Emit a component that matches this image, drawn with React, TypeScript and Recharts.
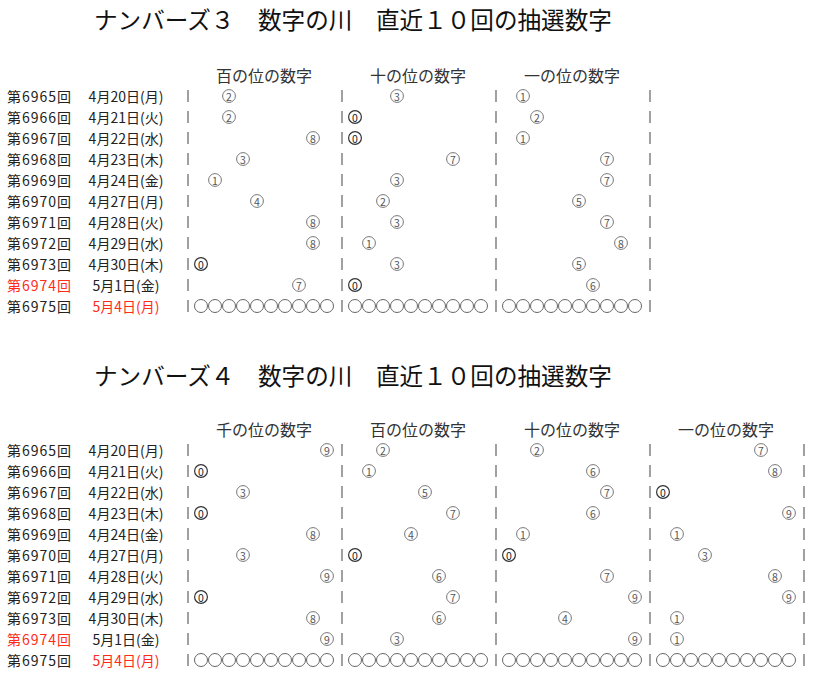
import React from 'react';
import { ScatterChart, Scatter, XAxis, YAxis } from 'recharts';

// draw rounds and dates (last round is the upcoming one)
const rounds = ['第6965回', '第6966回', '第6967回', '第6968回', '第6969回', '第6970回', '第6971回', '第6972回', '第6973回', '第6974回', '第6975回'];
const dates = ['4月20日(月)', '4月21日(火)', '4月22日(水)', '4月23日(木)', '4月24日(金)', '4月27日(月)', '4月28日(火)', '4月29日(水)', '4月30日(木)', '5月1日(金)', '5月4日(月)'];
const redRound = '第6974回';
const redDate = '5月4日(月)';

// ナンバーズ3
const n3Title = 'ナンバーズ３　数字の川　直近１０回の抽選数字';
const n3Headers = ['百の位の数字', '十の位の数字', '一の位の数字'];
const n3Hundreds = [2, 2, 8, 3, 1, 4, 8, 8, 0, 7];
const n3Tens = [3, 0, 0, 7, 3, 2, 3, 1, 3, 0];
const n3Ones = [1, 2, 1, 7, 7, 5, 7, 8, 5, 6];

// ナンバーズ4
const n4Title = 'ナンバーズ４　数字の川　直近１０回の抽選数字';
const n4Headers = ['千の位の数字', '百の位の数字', '十の位の数字', '一の位の数字'];
const n4Thousands = [9, 0, 3, 0, 8, 3, 9, 0, 8, 9];
const n4Hundreds = [2, 1, 5, 7, 4, 0, 6, 7, 6, 3];
const n4Tens = [2, 6, 7, 6, 1, 0, 7, 9, 4, 9];
const n4Ones = [7, 8, 0, 9, 1, 3, 8, 9, 1, 1];

const digitSlots = [0, 1, 2, 3, 4, 5, 6, 7, 8, 9];

const FONT = '"Noto Sans CJK JP", "Noto Sans", sans-serif';
const COL_SPAN = 11;
const SEP_SHIFT = -0.93;
const ROW_PX = 21;

// circled digit, ⓪ is drawn darker like in the source
const DigitMark = (props: any) => {
  const { cx, cy, payload } = props;
  const zero = payload.digit === 0;
  return (
    <g>
      <circle cx={cx} cy={cy} r={6.4} fill="none" stroke={zero ? '#333' : '#777'} strokeWidth={zero ? 1.2 : 1} />
      <text x={cx} y={cy + 0.5} textAnchor="middle" dominantBaseline="central" fontSize={10.5} fill={zero ? '#222' : '#555'} fontFamily={FONT}>
        {payload.digit}
      </text>
    </g>
  );
};

const BlankMark = (props: any) => <circle cx={props.cx} cy={props.cy} r={6.5} fill="none" stroke="#666" strokeWidth={1} />;

const HeaderMark = (props: any) => (
  <text x={props.cx} y={props.cy} textAnchor="middle" dominantBaseline="central" fontSize={16} fill="#333" fontFamily={FONT}>
    {props.payload.label}
  </text>
);

const SepMark = (props: any) => <rect x={props.cx - 1} y={props.cy - 6} width={2} height={12} fill="#a0a0a0" />;

const RowTick = (props: any) => {
  const { x, y, payload } = props;
  const i = payload.value;
  const round = rounds[i];
  const date = dates[i];
  return (
    <g fontFamily={FONT} fontSize={14}>
      <text x={x - 172} y={y} dominantBaseline="central" letterSpacing={1} fill={round === redRound ? '#ff2a1a' : '#222'}>
        {round}
      </text>
      <text x={x - 53} y={y} textAnchor="middle" dominantBaseline="central" fill={date === redDate ? '#ff2a1a' : '#222'}>
        {date}
      </text>
    </g>
  );
};

const RiverPanel = ({ columns, headers, marginTop, height }: { columns: number[][]; headers: string[]; marginTop: number; height: number }) => {
  const drawn = columns.flatMap((col, c) => col.map((v, r) => ({ u: c * COL_SPAN + v, row: r, digit: v })));
  const blanks = columns.flatMap((_, c) => digitSlots.map(d => ({ u: c * COL_SPAN + d, row: rounds.length - 1 })));
  const heads = headers.map((h, c) => ({ u: c * COL_SPAN + 4.5, row: -1, label: h }));
  const seps = [...columns, null].flatMap((_, c) => rounds.map((_, r) => ({ u: c * COL_SPAN + SEP_SHIFT, row: r })));
  const rowTicks = rounds.map((_, i) => i);
  const bottom = height - marginTop - 12 * ROW_PX;

  return (
    <ScatterChart width={814} height={height} margin={{ top: marginTop, right: 4, bottom, left: 7 }}>
      <XAxis type="number" dataKey="u" domain={[-1, 43.5]} hide allowDataOverflow />
      <YAxis
        type="number"
        dataKey="row"
        domain={[-1.5, 10.5]}
        reversed
        ticks={rowTicks}
        interval={0}
        width={180}
        axisLine={false}
        tickLine={false}
        tick={<RowTick />}
      />
      <Scatter data={seps} shape={<SepMark />} isAnimationActive={false} />
      <Scatter data={heads} shape={<HeaderMark />} isAnimationActive={false} />
      <Scatter data={drawn} shape={<DigitMark />} isAnimationActive={false} />
      <Scatter data={blanks} shape={<BlankMark />} isAnimationActive={false} />
    </ScatterChart>
  );
};

const titleStyle: React.CSSProperties = {
  position: 'absolute',
  left: 94,
  fontFamily: FONT,
  fontSize: 23.6,
  lineHeight: '24px',
  color: '#111',
  whiteSpace: 'pre',
};

export default function App() {
  return (
    <div style={{ position: 'absolute', left: 0, top: 0, width: 814, height: 677, overflow: 'hidden', background: '#fff' }}>
      <div style={{ ...titleStyle, top: 7 }}>{n3Title}</div>
      <div style={{ position: 'absolute', left: 0, top: 0 }}>
        <RiverPanel columns={[n3Hundreds, n3Tens, n3Ones]} headers={n3Headers} marginTop={64.5} height={327} />
      </div>
      <div style={{ ...titleStyle, top: 363 }}>{n4Title}</div>
      <div style={{ position: 'absolute', left: 0, top: 356 }}>
        <RiverPanel columns={[n4Thousands, n4Hundreds, n4Tens, n4Ones]} headers={n4Headers} marginTop={62.5} height={321} />
      </div>
    </div>
  );
}
